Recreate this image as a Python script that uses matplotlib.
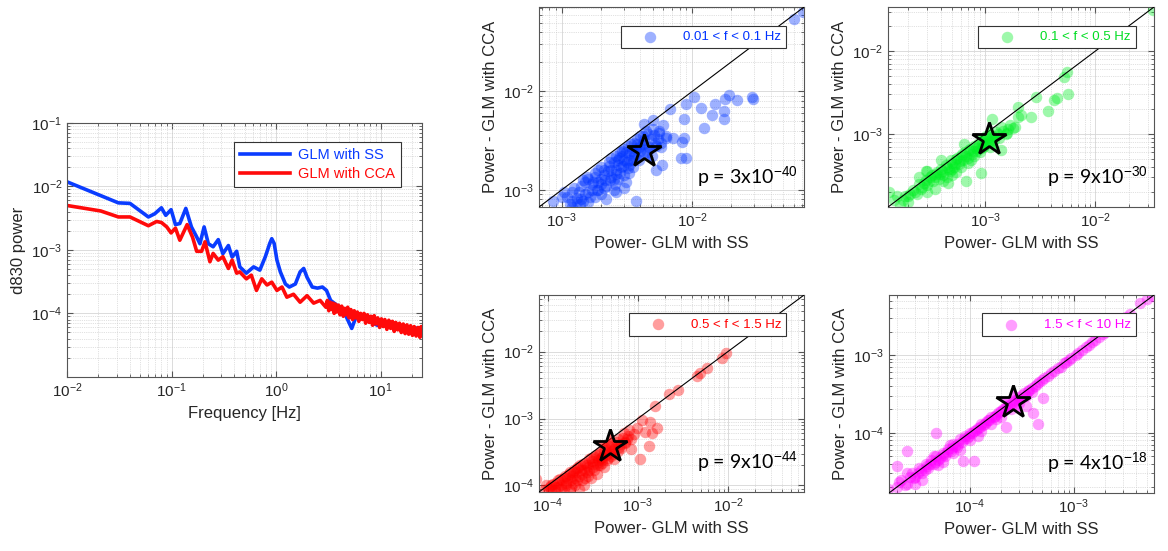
import numpy as np
import matplotlib
matplotlib.use('Agg')
import matplotlib.pyplot as plt
from matplotlib.colors import to_rgba

plt.rcParams['font.family'] = ['Liberation Sans', 'DejaVu Sans']
plt.rcParams['mathtext.fontset'] = 'custom'
plt.rcParams['mathtext.rm'] = 'Liberation Sans'
plt.rcParams['mathtext.it'] = 'Liberation Sans'

# --- PSD curves (left panel) ---
freq_ss = [0.01, 0.031, 0.040, 0.060, 0.069, 0.080, 0.088, 0.099, 0.109, 0.12, 0.137, 0.155,
           0.174, 0.187, 0.205, 0.225, 0.25, 0.28, 0.31, 0.35, 0.38, 0.42, 0.45, 0.52, 0.61,
           0.70, 0.79, 0.87, 0.91, 0.96, 1.02, 1.10, 1.23, 1.34, 1.53, 1.70, 1.84, 1.98, 2.22,
           2.49, 2.78, 3.04, 3.33, 3.72, 4.4, 5.3, 5.9, 6.6, 7.4, 8.3, 9.3, 10.4, 11.6, 13.0,
           14.5, 16.2, 18.0, 20.3, 22.5, 25.0]
power_ss = [0.0118, 0.0055, 0.0054, 0.0033, 0.0037, 0.0046, 0.0035, 0.0043, 0.0025, 0.0026,
            0.0045, 0.0023, 0.0016, 0.00125, 0.0023, 0.00125, 0.00112, 0.00145, 0.00087,
            0.00117, 0.00077, 0.00095, 0.00054, 0.00043, 0.00054, 0.00048, 0.00078, 0.00126,
            0.0015, 0.00126, 0.00069, 0.00045, 0.00029, 0.00026, 0.00029, 0.00045, 0.00051,
            0.00037, 0.00026, 0.00025, 0.00026, 0.00023, 0.00016, 0.000139, 0.000112, 5.8e-5,
            9.3e-5, 8.5e-5, 7.8e-5, 7.2e-5, 6.5e-5, 7.0e-5, 6.9e-5, 6.0e-5, 5.8e-5, 6.3e-5,
            6.1e-5, 5.6e-5, 5.9e-5, 5.4e-5]

freq_cca_low = [0.01, 0.021, 0.031, 0.040, 0.060, 0.072, 0.080, 0.090, 0.099, 0.109, 0.12,
                0.141, 0.159, 0.174, 0.194, 0.209, 0.233, 0.25, 0.28, 0.31, 0.35, 0.38, 0.42,
                0.45, 0.52, 0.58, 0.65, 0.73, 0.82, 0.91, 1.02, 1.14, 1.27, 1.47, 1.70, 1.98,
                2.29, 2.64]
power_cca_low = [0.0050, 0.0041, 0.0033, 0.0033, 0.0024, 0.0028, 0.0027, 0.0023, 0.00185,
                 0.0022, 0.00142, 0.0025, 0.00158, 0.00095, 0.00095, 0.00134, 0.00065, 0.00088,
                 0.00069, 0.00078, 0.00051, 0.00069, 0.00043, 0.00045, 0.00035, 0.0004,
                 0.00023, 0.00035, 0.00028, 0.00031, 0.00023, 0.00026, 0.00018, 0.0002,
                 0.00015, 0.00019, 0.000145, 0.00016]
# 3-25 Hz part of the CCA curve (noisy band), power in 1e-4
freq_cca_high = [3.0, 3.1, 3.2, 3.3, 3.4, 3.5, 3.6, 3.7, 3.8, 3.95, 4.1, 4.25, 4.4, 4.55, 4.7,
                 4.85, 5.0, 5.2, 5.4, 5.6, 5.8, 6.0, 6.2, 6.45, 6.7, 6.95, 7.2, 7.5, 7.8, 8.1,
                 8.4, 8.7, 9.0, 9.4, 9.8, 10.2, 10.6, 11.0, 11.5, 12.0, 12.5, 13.0, 13.5, 14.0,
                 14.6, 15.2, 15.8, 16.5, 17.2, 17.9, 18.6, 19.4, 20.2, 21.0, 21.9, 22.8, 23.8,
                 24.5, 25.0]
power_cca_high = [1.25, 1.6, 1.1, 1.5, 1.15, 1.45, 1.0, 1.4, 1.05, 1.35, 0.95, 1.3, 0.9, 1.2,
                  0.95, 1.25, 0.85, 1.15, 0.8, 1.1, 0.85, 1.05, 0.75, 1.0, 0.8, 1.0, 0.7, 0.95,
                  0.72, 0.9, 0.65, 0.92, 0.68, 0.85, 0.6, 0.82, 0.62, 0.8, 0.56, 0.78, 0.58,
                  0.75, 0.52, 0.72, 0.55, 0.7, 0.5, 0.68, 0.48, 0.66, 0.47, 0.64, 0.45, 0.62,
                  0.44, 0.6, 0.42, 0.62, 0.45]

# --- scatter panels: power with SS (x) vs power with CCA (y) ---
# 0.01 < f < 0.1 Hz, values in 1e-3
low_ss = [1.1, 1.2, 1.3, 1.4, 1.5, 1.6, 1.7, 1.8, 1.9, 2.0, 2.0, 2.1, 2.2, 2.3, 2.4, 2.5, 2.6, 2.7,
          2.8, 2.9, 3.0, 3.1, 3.2, 3.3, 3.5, 3.6, 3.7, 3.9, 4.0, 4.2, 4.4, 4.5, 4.8, 5.0, 5.3, 5.6,
          6.0, 2.2, 2.5, 1.6, 1.4, 1.25, 1.9, 2.8, 3.4, 2.6, 3.0, 1.55, 1.75, 2.4, 2.15, 2.95, 3.8,
          4.6, 1.05, 1.35, 2.7, 3.3, 2.0, 1.8,
          1.15, 1.3, 1.45, 1.6, 1.7, 1.85, 2.0, 2.1, 2.25, 2.35, 2.5, 2.6, 2.75, 2.85, 3.0, 3.15,
          3.3, 3.45, 3.6, 3.8, 4.0, 4.3, 4.7, 5.1, 5.5, 1.2, 1.5, 1.8, 2.1, 2.4, 2.7, 3.0, 3.3,
          3.6, 3.9, 4.2, 2.3, 2.6, 2.9, 3.2, 1.9, 1.65, 1.45, 2.55, 3.1, 3.5, 5.2, 5.8, 6.3, 4.9,
          70.5, 60.0, 19.0, 17.9, 22.0, 28.6, 29.4, 10.3, 8.9, 15.0, 17.4, 17.4, 14.2, 12.3, 11.6,
          8.6, 6.7, 7.1, 8.6, 8.4, 8.9, 8.2, 6.3, 5.8, 5.9, 5.3, 5.6, 5.0, 4.3, 3.7, 1.0, 1.19,
          1.38, 0.86]
low_cca = [0.85, 0.95, 0.75, 1.1, 0.9, 1.3, 1.0, 1.5, 1.2, 0.9, 1.7, 1.4, 1.1, 1.9, 1.6, 1.3, 2.2,
           1.8, 1.5, 2.5, 2.0, 1.2, 2.8, 2.3, 1.7, 3.0, 2.6, 2.0, 3.5, 2.9, 4.0, 2.4, 3.3, 4.2, 2.8,
           3.8, 4.6, 0.8, 1.0, 0.75, 0.8, 1.05, 1.6, 2.4, 2.9, 0.95, 1.05, 1.35, 1.2, 2.1, 1.25,
           1.75, 3.3, 3.7, 0.95, 0.95, 1.3, 1.5, 1.15, 0.85,
           0.72, 0.82, 0.78, 0.95, 1.15, 1.0, 1.3, 1.05, 1.55, 1.25, 1.9, 1.45, 2.1, 1.7, 2.6, 1.9,
           2.0, 2.5, 2.2, 2.9, 2.5, 3.2, 2.7, 3.6, 3.3, 0.78, 1.2, 1.35, 1.6, 1.35, 2.0, 1.4, 1.8,
           2.3, 2.7, 3.5, 1.75, 1.6, 2.2, 1.65, 1.0, 0.85, 1.25, 1.15, 2.4, 2.0, 3.0, 3.0, 3.5, 2.2,
           64.0, 55.0, 9.1, 8.4, 8.1, 8.8, 8.3, 8.8, 7.5, 7.5, 5.3, 6.4, 5.7, 4.3, 6.8, 5.3, 6.7,
           3.4, 3.4, 3.1, 2.1, 2.1, 3.4, 2.7, 1.8, 1.6, 4.0, 5.1, 4.7, 0.78, 0.84, 0.67, 0.72,
           0.78]
# 0.1 < f < 0.5 Hz, values in 1e-3
mid_ss = [0.15, 0.17, 0.19, 0.2, 0.22, 0.24, 0.26, 0.28, 0.3, 0.32, 0.34, 0.36, 0.38, 0.4, 0.42,
          0.45, 0.48, 0.5, 0.52, 0.55, 0.58, 0.6, 0.63, 0.66, 0.7, 0.73, 0.76, 0.8, 0.84, 0.88,
          0.92, 0.96, 1.0, 1.05, 1.1, 1.15, 1.2, 1.3, 1.35, 1.45, 1.55, 1.7, 1.85, 2.0, 0.3, 0.45,
          0.6, 0.35, 0.55, 0.75, 0.9, 0.25, 0.4, 0.65, 0.5, 0.42, 1.1, 0.8,
          0.16, 0.18, 0.21, 0.23, 0.25, 0.27, 0.29, 0.31, 0.33, 0.35, 0.37, 0.39, 0.41, 0.44, 0.47,
          0.49, 0.53, 0.56, 0.59, 0.62, 0.67, 0.71, 0.78, 0.82, 0.86, 0.94, 0.98, 1.02, 1.08,
          1.25, 1.4, 1.6, 0.3, 0.5, 0.7, 0.95, 1.2,
          33.6, 5.5, 5.2, 5.7, 4.2, 4.5, 2.9, 3.7, 2.6, 2.0, 2.1, 1.8, 1.16, 1.59, 1.39, 0.91,
          0.67, 0.46, 0.29, 0.136, 0.2]
mid_cca = [0.16, 0.14, 0.18, 0.15, 0.21, 0.19, 0.22, 0.26, 0.24, 0.3, 0.27, 0.33, 0.29, 0.38,
           0.32, 0.4, 0.36, 0.45, 0.4, 0.5, 0.44, 0.55, 0.48, 0.6, 0.52, 0.66, 0.58, 0.72, 0.62,
           0.78, 0.68, 0.85, 0.75, 0.9, 0.8, 0.95, 0.85, 1.0, 0.9, 1.1, 1.0, 1.3, 1.2, 1.6, 0.36,
           0.3, 0.4, 0.22, 0.35, 0.48, 0.6, 0.3, 0.48, 0.75, 0.32, 0.27, 0.7, 0.55,
           0.18, 0.16, 0.19, 0.2, 0.25, 0.23, 0.28, 0.27, 0.32, 0.3, 0.35, 0.33, 0.36, 0.42, 0.38,
           0.48, 0.43, 0.52, 0.47, 0.58, 0.55, 0.65, 0.62, 0.68, 0.72, 0.8, 0.72, 0.95, 0.82,
           1.05, 1.2, 1.15, 0.2, 0.38, 0.45, 0.7, 0.95,
           31.0, 5.6, 4.9, 3.0, 2.6, 2.7, 2.8, 1.9, 1.6, 2.1, 1.7, 1.18, 1.5, 1.03, 0.65, 0.34,
           0.27, 0.26, 0.36, 0.2, 0.18]
# 0.5 < f < 1.5 Hz, values in 1e-3
hi_ss = [0.1, 0.11, 0.12, 0.13, 0.14, 0.15, 0.16, 0.17, 0.18, 0.19, 0.2, 0.21, 0.22, 0.23, 0.25,
         0.26, 0.28, 0.3, 0.32, 0.34, 0.36, 0.38, 0.4, 0.43, 0.46, 0.5, 0.55, 0.6, 0.65, 0.7, 0.75,
         0.8, 0.9, 0.15, 0.18, 0.2, 0.24, 0.28, 0.33, 0.38, 0.45, 0.12, 0.25, 0.3, 0.22, 0.35,
         0.42, 0.5, 0.6, 0.14, 0.17, 0.27, 0.4, 0.55,
         0.09, 0.105, 0.115, 0.125, 0.135, 0.145, 0.155, 0.165, 0.175, 0.185, 0.195, 0.205,
         0.215, 0.235, 0.245, 0.27, 0.29, 0.31, 0.33, 0.35, 0.37, 0.39, 0.42, 0.44, 0.48, 0.52,
         0.58, 0.62, 0.68, 0.72, 0.11, 0.13, 0.16, 0.19, 0.21, 0.24, 0.26, 0.29, 0.32, 0.36, 0.4,
         0.47, 0.53, 0.65, 0.78, 0.85,
         9.4, 8.6, 5.8, 4.9, 4.5, 2.8, 2.2, 1.57, 1.38, 1.32, 1.06, 1.44, 1.64, 0.72, 0.85, 0.97,
         1.1, 1.2, 0.074, 0.096]
hi_cca = [0.09, 0.1, 0.095, 0.12, 0.1, 0.13, 0.11, 0.15, 0.12, 0.16, 0.13, 0.18, 0.14, 0.2, 0.17,
          0.22, 0.19, 0.26, 0.21, 0.29, 0.24, 0.32, 0.27, 0.36, 0.3, 0.42, 0.35, 0.5, 0.42, 0.6,
          0.5, 0.68, 0.58, 0.09, 0.095, 0.1, 0.12, 0.14, 0.17, 0.2, 0.24, 0.085, 0.1, 0.13, 0.09,
          0.15, 0.19, 0.28, 0.33, 0.088, 0.09, 0.16, 0.22, 0.25,
          0.085, 0.095, 0.105, 0.11, 0.125, 0.12, 0.14, 0.13, 0.16, 0.14, 0.17, 0.16, 0.19, 0.17,
          0.21, 0.2, 0.25, 0.23, 0.27, 0.22, 0.3, 0.26, 0.34, 0.29, 0.39, 0.33, 0.45, 0.38, 0.52,
          0.45, 0.088, 0.095, 0.1, 0.11, 0.12, 0.15, 0.13, 0.17, 0.19, 0.2, 0.24, 0.26, 0.3, 0.36,
          0.55, 0.5,
          9.4, 8.1, 5.6, 4.8, 4.3, 2.7, 2.3, 1.56, 0.89, 0.39, 0.25, 0.6, 0.72, 0.43, 0.35, 0.72,
          0.95, 0.64, 0.127, 0.1]
# 1.5 < f < 10 Hz, values in 1e-4
top_ss = [0.2, 0.22, 0.25, 0.28, 0.3, 0.33, 0.35, 0.38, 0.4, 0.43, 0.45, 0.48, 0.5, 0.55, 0.58,
          0.62, 0.66, 0.7, 0.75, 0.8, 0.85, 0.9, 0.95, 1.0, 1.1, 1.2, 1.3, 1.4, 1.5, 1.6, 1.75, 1.9,
          2.0, 2.2, 2.4, 2.7, 3.0, 3.3, 3.7, 4.2, 4.6, 5.2, 6.0, 7.0, 8.0, 9.0, 10.5, 12, 14, 16,
          19, 22, 26, 30, 35, 0.3, 0.5, 0.7, 1.0, 1.3, 0.25, 0.45, 0.65, 2.5, 3.5, 1.8,
          0.21, 0.24, 0.27, 0.29, 0.32, 0.34, 0.37, 0.39, 0.42, 0.46, 0.52, 0.56, 0.6, 0.68, 0.72,
          0.78, 0.88, 0.98, 1.05, 1.15, 1.25, 1.35, 1.45, 1.55, 1.7, 1.85, 2.1, 2.3, 2.6, 2.9,
          3.2, 3.6, 4.0, 4.4, 5.0, 5.6, 6.5, 7.5, 8.5, 9.5, 11, 13, 15, 17.5, 20, 24, 28, 32,
          0.35, 0.55, 0.8, 1.2, 1.6, 2.0, 3.0, 4.0,
          58, 50, 43, 5.1, 4.5, 4.1, 3.5, 0.48, 0.25, 0.2, 0.165, 0.86, 1.1, 2.25]
top_cca = [0.2, 0.25, 0.22, 0.3, 0.27, 0.35, 0.3, 0.4, 0.35, 0.45, 0.4, 0.5, 0.45, 0.55, 0.5,
           0.62, 0.58, 0.72, 0.65, 0.82, 0.75, 0.92, 0.85, 1.0, 1.05, 1.15, 1.3, 1.3, 1.45, 1.6,
           1.65, 1.85, 1.9, 2.1, 2.3, 2.6, 2.9, 3.2, 3.5, 4.0, 4.5, 5.0, 5.8, 6.7, 7.8, 8.7, 10,
           11.5, 13.5, 15.5, 18.5, 21, 25, 29, 34, 0.22, 0.38, 0.55, 0.8, 1.05, 0.3, 0.5, 0.7,
           2.0, 3.0, 1.5,
           0.23, 0.21, 0.27, 0.26, 0.3, 0.33, 0.33, 0.37, 0.4, 0.42, 0.48, 0.52, 0.56, 0.63, 0.68,
           0.72, 0.82, 0.9, 1.0, 1.08, 1.18, 1.25, 1.38, 1.45, 1.6, 1.75, 2.0, 2.2, 2.45, 2.75,
           3.05, 3.4, 3.8, 4.2, 4.8, 5.3, 6.2, 7.1, 8.1, 9.1, 10.5, 12.5, 14.5, 17, 19.5, 23, 27,
           31, 0.25, 0.42, 0.6, 0.9, 1.3, 1.6, 2.4, 3.3,
           58, 53, 46, 2.8, 1.3, 1.8, 2.2, 1.0, 0.58, 0.37, 0.19, 0.43, 0.43, 1.2]

band_labels = ['0.01 < f < 0.1 Hz', '0.1 < f < 0.5 Hz', '0.5 < f < 1.5 Hz', '1.5 < f < 10 Hz']
p_values = ['p = 3x10$^{-40}$', 'p = 9x10$^{-30}$', 'p = 9x10$^{-44}$', 'p = 4x10$^{-18}$']
star_ss = [4.3e-3, 1.09e-3, 4.9e-4, 2.6e-4]
star_cca = [2.5e-3, 0.86e-3, 3.9e-4, 2.5e-4]
band_colors = ['#0033ff', '#00ee22', '#ff0000', '#ff00ff']
text_colors = ['#0033ff', '#00dd22', '#ff0000', '#ff00ff']
limits = [(6.7e-4, 0.072), (1.32e-4, 0.034), (8.0e-5, 0.07), (1.68e-5, 5.9e-3)]
scales = [1e-3, 1e-3, 1e-3, 1e-4]
scatter_x = [low_ss, mid_ss, hi_ss, top_ss]
scatter_y = [low_cca, mid_cca, hi_cca, top_cca]

text_col = '#262626'


def style_axes(ax):
    ax.set_xscale('log')
    ax.set_yscale('log')
    ax.grid(True, which='major', color='#d6d6d6', lw=0.6, ls='-')
    ax.grid(True, which='minor', color='#c4c4c4', lw=0.5, ls=':')
    ax.set_axisbelow(True)
    for sp in ax.spines.values():
        sp.set_color('#555555')
        sp.set_linewidth(0.8)
    ax.tick_params(which='both', direction='in', colors='#555555', labelcolor=text_col,
                   labelsize=11, top=True, right=True)
    ax.tick_params(which='major', length=4)
    ax.tick_params(which='minor', length=2)


fig = plt.figure(figsize=(11.68, 5.51), dpi=100)

# left PSD panel
ax0 = fig.add_axes([0.0574, 0.316, 0.304, 0.461])
style_axes(ax0)
ax0.plot(freq_ss, power_ss, color='#0a3cff', lw=2.6, label='GLM with SS')
freq_cca = freq_cca_low + freq_cca_high
power_cca = power_cca_low + [v * 1e-4 for v in power_cca_high]
ax0.plot(freq_cca, power_cca, color='#ff0a0a', lw=2.6, label='GLM with CCA')
ax0.set_xlim(0.01, 25)
ax0.set_ylim(1e-5, 1e-1)
ax0.set_yticks([1e-4, 1e-3, 1e-2, 1e-1])
ax0.set_xlabel('Frequency [Hz]', fontsize=12, color=text_col)
ax0.set_ylabel('d830 power', fontsize=12, color=text_col)
leg = ax0.legend(loc='upper right', bbox_to_anchor=(0.96, 0.953), fontsize=10.5,
                 handlelength=3.4, handletextpad=0.55, borderpad=0.4, labelspacing=0.35,
                 fancybox=False, edgecolor='#333333', framealpha=1)
leg.get_frame().set_linewidth(0.8)
for t, c in zip(leg.get_texts(), ['#0a3cff', '#ff0a0a']):
    t.set_color(c)

positions = [[0.4615, 0.6243, 0.2269, 0.363],
             [0.7603, 0.6243, 0.2277, 0.363],
             [0.4615, 0.1071, 0.2269, 0.3575],
             [0.7611, 0.1053, 0.2269, 0.3593]]

for i in range(4):
    ax = fig.add_axes(positions[i])
    style_axes(ax)
    lo, hi = limits[i]
    xs = np.array(scatter_x[i]) * scales[i]
    ys = np.array(scatter_y[i]) * scales[i]
    ax.scatter(xs, ys, s=68, color=band_colors[i], alpha=0.38, linewidths=0,
               label=band_labels[i], zorder=2)
    ax.plot([lo, hi], [lo, hi], color='black', lw=0.8, zorder=3)
    ax.plot([star_ss[i]], [star_cca[i]], marker='*', ms=25,
            mfc=to_rgba(band_colors[i], 0.55), mec='black', mew=2, ls='none', zorder=4)
    ax.set_xlim(lo, hi)
    ax.set_ylim(lo, hi)
    ax.set_xlabel('Power- GLM with SS', fontsize=12, color=text_col)
    ax.set_ylabel('Power - GLM with CCA', fontsize=12, color=text_col)
    ax.text(0.975, 0.12, p_values[i], transform=ax.transAxes, ha='right', va='baseline',
            fontsize=14, family='Lato', color='black')
    lg = ax.legend(loc='upper right', bbox_to_anchor=(0.958, 0.94), fontsize=9.5,
                   handlelength=3.6, handletextpad=0.7, borderpad=0.4, markerscale=1.0,
                   fancybox=False, edgecolor='#333333', framealpha=1)
    lg.get_frame().set_linewidth(0.8)
    lg.get_texts()[0].set_color(text_colors[i])

fig.savefig('out.png', dpi=100)
